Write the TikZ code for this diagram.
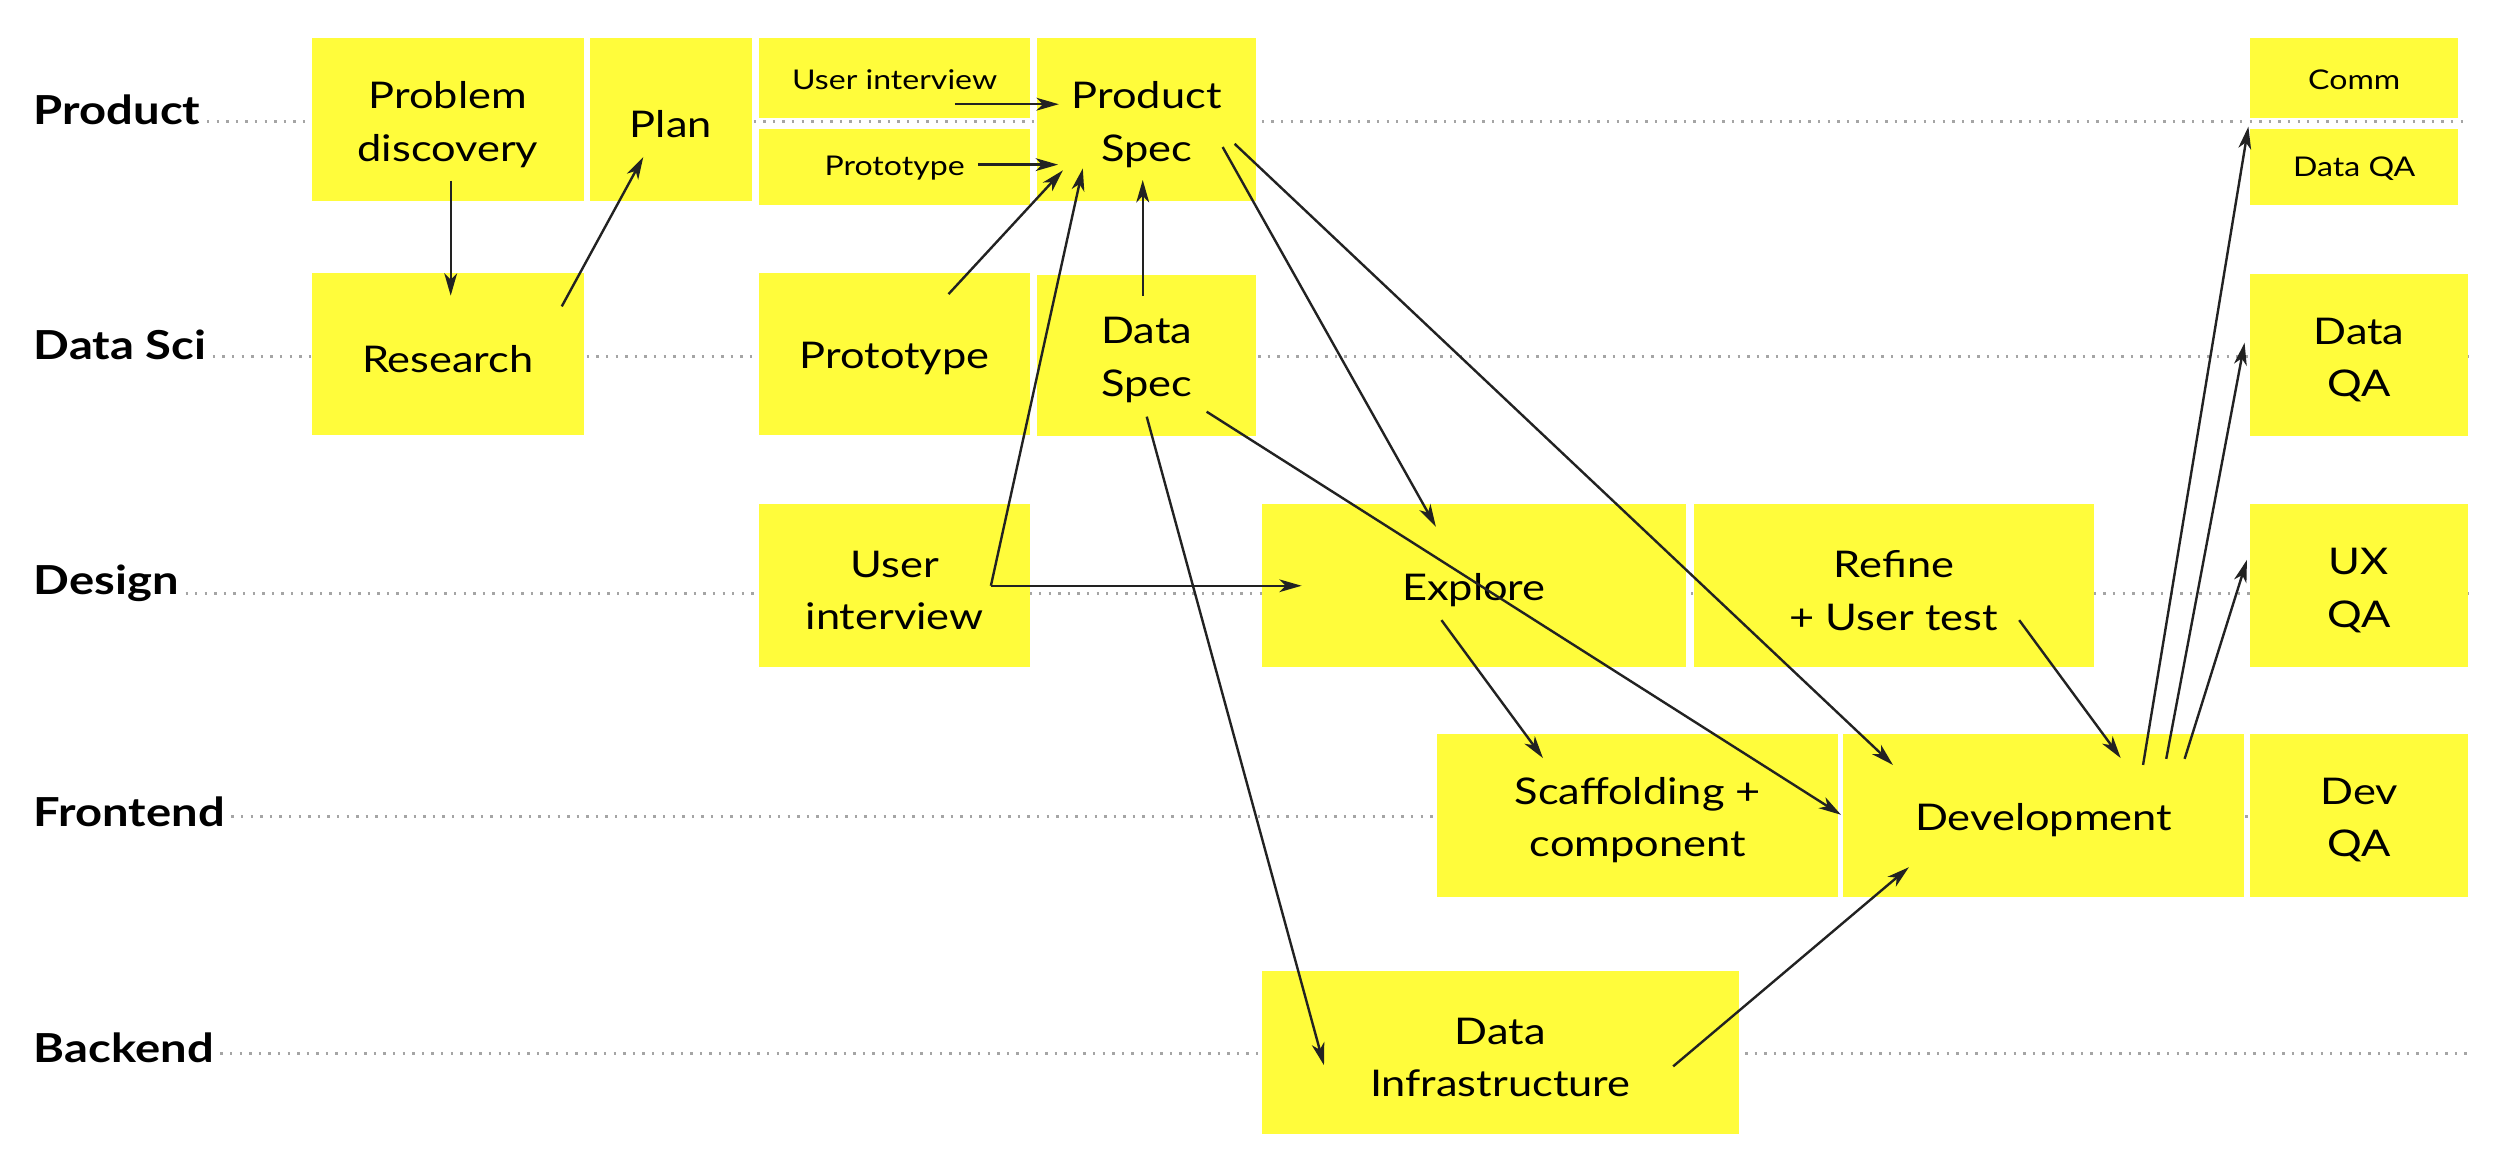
\documentclass[tikz,border=0pt]{standalone}
\usepackage{fontspec}
\setmainfont{Lato}[FakeStretch=1.18]
\usetikzlibrary{arrows.meta,calc}
\definecolor{sticky}{RGB}{255,252,59}
\definecolor{arr}{RGB}{34,34,34}
\definecolor{dotc}{RGB}{165,165,165}
\begin{document}
\begin{tikzpicture}[x=1pt,y=-1pt,
 box/.style={fill=sticky, draw=none, inner sep=0pt},
 bigtext/.style={label={[inner sep=0pt, align=center, font=\fontsize{23}{33}\selectfont, yshift=-3pt]center:#1}},
 smalltext/.style={label={[inner sep=0pt, align=center, font=\fontsize{17}{20}\selectfont, yshift=-1pt]center:#1}},
 lane/.style={font=\bfseries\fontsize{25}{30}\selectfont, anchor=base west, inner sep=0pt},
 guide/.style={draw=dotc, line width=1.6pt, dash pattern=on 1.5pt off 4.5pt},
 link/.style={draw=arr, line width=1.5pt, -{Stealth[length=14pt,width=8pt,inset=4pt]}}]
\useasboundingbox[fill=white] (0,0) rectangle (1568,734.6);
% lane labels
\node[lane] (lP) at (21,78) {Product};
\node[lane] (lD) at (21,225) {Data Sci};
\node[lane] (lG) at (21,372) {Design};
\node[lane] (lF) at (21,517) {Frontend};
\node[lane] (lB) at (21,665) {Backend};
\coordinate (eP) at (1545,76);
\coordinate (eD) at (1545,223);
\coordinate (eG) at (1545,371.5);
\coordinate (eF) at (1545,511);
\coordinate (eB) at (1545,659.3);
\draw[guide] ([xshift=4pt]lP.east |- eP) -- (eP);
\draw[guide] ([xshift=4pt]lD.east |- eD) -- (eD);
\draw[guide] ([xshift=4pt]lG.east |- eG) -- (eG);
\draw[guide] ([xshift=4pt]lF.east |- eF) -- (eF);
\draw[guide] ([xshift=4pt]lB.east |- eB) -- (eB);
% boxes
\node[box, minimum width=170.5pt, minimum height=101.8pt, bigtext={Problem\\discovery}] (pd) at (280.25,74.9) {};
\node[box, minimum width=101.5pt, minimum height=101.8pt, bigtext={Plan}] (plan) at (419.75,74.9) {};
\node[box, minimum width=169.5pt, minimum height=49.8pt, smalltext={User interview}] (ui1) at (559.75,48.9) {};
\node[box, minimum width=169.5pt, minimum height=47.5pt, smalltext={Prototype}] (pr1) at (559.75,104.45) {};
\node[box, minimum width=137pt, minimum height=101.8pt, bigtext={Product\\Spec}] (ps) at (717.5,74.9) {};
\node[box, minimum width=130pt, minimum height=49.8pt, smalltext={Comm}] (comm) at (1473,48.9) {};
\node[box, minimum width=130pt, minimum height=47.5pt, smalltext={Data QA}] (dqa1) at (1473,104.45) {};
\node[box, minimum width=170.5pt, minimum height=101.8pt, bigtext={Research}] (res) at (280.25,221.5) {};
\node[box, minimum width=169.5pt, minimum height=101.8pt, bigtext={Prototype}] (pr2) at (559.75,221.5) {};
\node[box, minimum width=137pt, minimum height=101.3pt, bigtext={Data\\Spec}] (ds) at (717.5,222.45) {};
\node[box, minimum width=136pt, minimum height=101.5pt, bigtext={Data\\QA}] (dqa2) at (1476,222.35) {};
\node[box, minimum width=169.5pt, minimum height=101.7pt, bigtext={User\\interview}] (ui2) at (559.75,366.45) {};
\node[box, minimum width=265.6pt, minimum height=101.7pt, bigtext={Explore}] (exp) at (922.2,366.45) {};
\node[box, minimum width=250pt, minimum height=101.7pt, bigtext={Refine\\+ User test}] (ref) at (1185,366.45) {};
\node[box, minimum width=136pt, minimum height=101.7pt, bigtext={UX\\QA}] (uxqa) at (1476,366.45) {};
\node[box, minimum width=250.6pt, minimum height=101.8pt, bigtext={Scaffolding +\\component}] (scaf) at (1024.7,510.1) {};
\node[box, minimum width=250.6pt, minimum height=101.8pt, bigtext={Development}] (dev) at (1278.7,510.1) {};
\node[box, minimum width=136pt, minimum height=101.8pt, bigtext={Dev\\QA}] (devqa) at (1476,510.1) {};
\node[box, minimum width=298.6pt, minimum height=101.8pt, bigtext={Data\\Infrastructure}] (dinf) at (938.7,658.7) {};
% connectors
\draw[link] ([shift={(1.75,38.1)}]pd.center) -- ([shift={(1.75,-36.5)}]res.center);
\draw[link] ([shift={(71.25,-29.8)}]res.center) -- ([shift={(-17.25,23.3)}]plan.center);
\draw[link] ([shift={(37.75,16.3)}]ui1.center) -- ([shift={(-55,-9.7)}]ps.center);
\draw[link] ([shift={(52.25,-1.45)}]pr1.center) -- ([shift={(-55.5,28.1)}]ps.center);
\draw[link] ([shift={(33.75,-37.5)}]pr2.center) -- ([shift={(-52.5,31.7)}]ps.center);
\draw[link] ([shift={(-2.5,-37.45)}]ds.center) -- ([shift={(-2.5,37.7)}]ps.center);
\coordinate (uij) at ([shift={(60.25,0.05)}]ui2.center);
\draw[link] (uij) -- ([shift={(-40,30.5)}]ps.center);
\draw[link] (uij) -- ([shift={(-107.8,0.05)}]exp.center);
\draw[link] ([shift={(47.5,17.1)}]ps.center) -- ([shift={(-23.8,-36.95)}]exp.center);
\draw[link] ([shift={(55,15.1)}]ps.center) -- ([shift={(-94.3,-31.5)}]dev.center);
\draw[link] ([shift={(37.5,35.15)}]ds.center) -- ([shift={(-126.8,-0.3)}]dev.center);
\draw[link] ([shift={(0,38.25)}]ds.center) -- ([shift={(-110.3,7.8)}]dinf.center);
\draw[link] ([shift={(-20.3,21.55)}]exp.center) -- ([shift={(-59.3,-35.8)}]scaf.center);
\draw[link] ([shift={(78.4,21.55)}]ref.center) -- ([shift={(48.2,-35.8)}]dev.center);
\draw[link] ([shift={(108.2,8.5)}]dinf.center) -- ([shift={(-84.3,32.5)}]dev.center);
\draw[link] ([shift={(62.2,-31.5)}]dev.center) -- ([shift={(-1,5.2)}]comm.south west);
\draw[link] ([shift={(76.7,-35.3)}]dev.center) -- ([shift={(-71.6,-7.95)}]dqa2.center);
\draw[link] ([shift={(88.2,-35.3)}]dev.center) -- ([shift={(-70.1,-16.15)}]uxqa.center);
\end{tikzpicture}
\end{document}
